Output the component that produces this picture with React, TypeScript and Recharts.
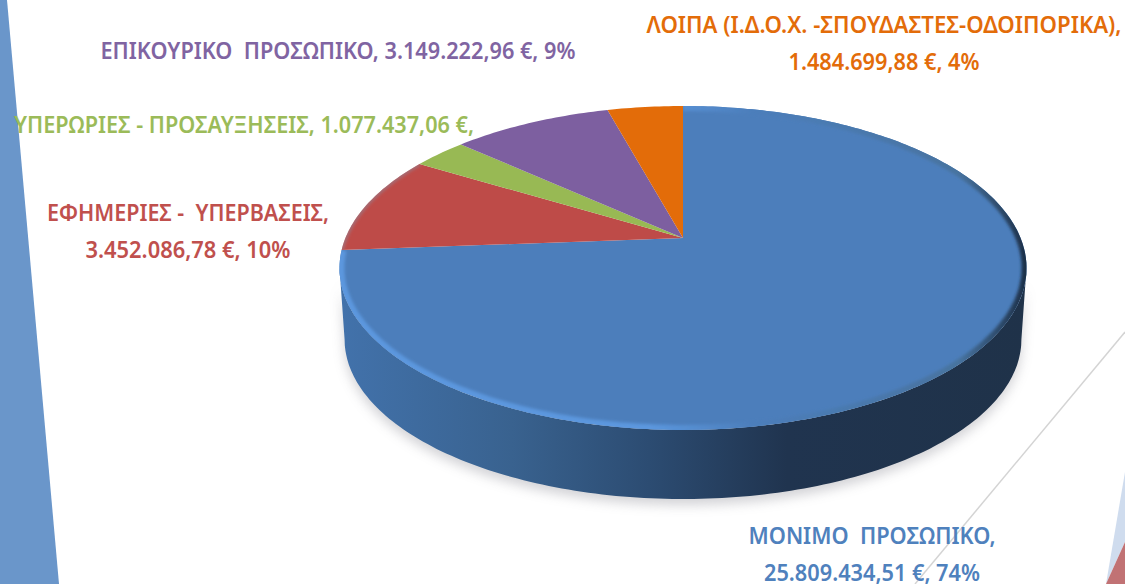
import { PieChart, Pie } from "recharts";

const categories = [
  "ΜΟΝΙΜΟ  ΠΡΟΣΩΠΙΚΟ",
  "ΕΦΗΜΕΡΙΕΣ -  ΥΠΕΡΒΑΣΕΙΣ",
  "ΥΠΕΡΩΡΙΕΣ - ΠΡΟΣΑΥΞΗΣΕΙΣ",
  "ΕΠΙΚΟΥΡΙΚΟ  ΠΡΟΣΩΠΙΚΟ",
  "ΛΟΙΠΑ (Ι.Δ.Ο.Χ. -ΣΠΟΥΔΑΣΤΕΣ-ΟΔΟΙΠΟΡΙΚΑ)",
];
const amounts = [25809434.51, 3452086.78, 1077437.06, 3149222.96, 1484699.88];
const sliceColors = ["#4c7ebb", "#be4b48", "#98b954", "#7d5fa0", "#e36c09"];
const textColors = ["#4f81bd", "#c0504d", "#9bbb59", "#8064a2", "#e36c09"];
const labelLines = [
  ["ΜΟΝΙΜΟ  ΠΡΟΣΩΠΙΚΟ,", "25.809.434,51 €, 74%"],
  ["ΕΦΗΜΕΡΙΕΣ -  ΥΠΕΡΒΑΣΕΙΣ,", "3.452.086,78 €, 10%"],
  ["ΥΠΕΡΩΡΙΕΣ - ΠΡΟΣΑΥΞΗΣΕΙΣ, 1.077.437,06 €,"],
  ["ΕΠΙΚΟΥΡΙΚΟ  ΠΡΟΣΩΠΙΚΟ, 3.149.222,96 €, 9%"],
  ["ΛΟΙΠΑ (Ι.Δ.Ο.Χ. -ΣΠΟΥΔΑΣΤΕΣ-ΟΔΟΙΠΟΡΙΚΑ),", "1.484.699,88 €, 4%"],
];
// measured on the picture, the original text is a bit squeezed sideways
const labelWidths = [[247, 216], [282, 205], [460], [475], [475, 191]];
const labelCenters = [872, 188, 244, 338, 884];
const labelBaselines = [544, 221, 133, 59, 33];
const LINE_GAP = 37;

const data = categories.map((name, i) => ({ name, value: amounts[i], index: i }));

// tilted disc: the apex sits above the middle of the ellipse, like the perspective in the original
const TILT = 0.185;
const SPREAD_X = 337.6;
const SPREAD_Y = 156.4;
const DEPTH = 72;
const FLOOR_SCALE = 0.985;

const project = (cx: number, cy: number, deg: number, scale = 1, dy = 0) => {
  const u = Math.cos((deg * Math.PI) / 180);
  const v = Math.sin((deg * Math.PI) / 180);
  const w = 1 + TILT * v;
  return [cx + (scale * SPREAD_X * u) / w, cy + dy - (scale * SPREAD_Y * v) / w];
};

const arcPoints = (cx: number, cy: number, from: number, to: number, scale = 1, dy = 0) => {
  const steps = Math.max(4, Math.ceil(Math.abs(to - from)));
  const pts: string[] = [];
  for (let i = 0; i <= steps; i++) {
    const p = project(cx, cy, from + ((to - from) * i) / steps, scale, dy);
    pts.push(`${p[0].toFixed(1)} ${p[1].toFixed(1)}`);
  }
  return pts;
};

function DiscSlice(props: any) {
  const { cx, cy, startAngle, endAngle, fill, index } = props;
  const rimPts = arcPoints(cx, cy, startAngle, endAngle);
  const face = `M${cx} ${cy}L${rimPts.join("L")}Z`;
  const rim = `M${rimPts.join("L")}`;
  if (index === 1) {
    return (
      <g>
        <path d={face} fill={fill} />
        <clipPath id="redClip">
          <path d={face} />
        </clipPath>
        <g clipPath="url(#redClip)">
          <path d={rim} fill="none" stroke="#8e8a9c" strokeOpacity={0.55} strokeWidth={4} filter="url(#rimBlur)" />
        </g>
      </g>
    );
  }
  if (index !== 0) {
    return <path d={face} fill={fill} />;
  }
  // front wall goes between the two silhouette points of the ellipse
  const edge = (Math.asin(-TILT) * 180) / Math.PI;
  const top = arcPoints(cx, cy, edge, -180 - edge);
  const floor = arcPoints(cx, cy, -180 - edge, edge, FLOOR_SCALE, DEPTH);
  const wall = `M${top.join("L")}L${floor.join("L")}Z`;
  return (
    <g>
      <path d={wall} fill="#84848e" opacity={0.36} filter="url(#softShadow)" transform="translate(0 6)" />
      <path d={wall} fill="url(#wallShade)" />
      <path d={face} fill={fill} />
      <clipPath id="faceClip">
        <path d={face} />
      </clipPath>
      <g clipPath="url(#faceClip)">
        <path d={rim} fill="none" stroke="url(#rimShade)" strokeWidth={10} filter="url(#rimBlur)" />
      </g>
    </g>
  );
}

function SliceLabel(props: any) {
  const i = props.index;
  return (
    <g>
      {labelLines[i].map((line, n) => (
        <text
          key={n}
          x={labelCenters[i] - labelWidths[i][n] / 2}
          y={labelBaselines[i] + n * LINE_GAP}
          textLength={labelWidths[i][n]}
          lengthAdjust="spacingAndGlyphs"
          fill={textColors[i]}
          fontFamily="'Noto Sans', sans-serif"
          fontSize={22.5}
          fontWeight={600}
          style={{ whiteSpace: "pre" }}
        >
          {line}
        </text>
      ))}
    </g>
  );
}

export default function App() {
  return (
    <div style={{ position: "absolute", left: 0, top: 0, width: 1125, height: 584, overflow: "hidden", background: "#fff" }}>
      <svg width={1125} height={584} style={{ position: "absolute", left: 0, top: 0 }}>
        <defs>
          <linearGradient id="wallShade" gradientUnits="userSpaceOnUse" x1={340} y1={0} x2={1027} y2={0}>
            <stop offset="0" stopColor="#4272ab" />
            <stop offset="0.25" stopColor="#39628f" />
            <stop offset="0.45" stopColor="#2c4c72" />
            <stop offset="0.65" stopColor="#20344f" />
            <stop offset="1" stopColor="#1f3249" />
          </linearGradient>
          <linearGradient id="rimShade" gradientUnits="userSpaceOnUse" x1={340} y1={0} x2={1027} y2={0}>
            <stop offset="0" stopColor="#5b97de" />
            <stop offset="0.45" stopColor="#5b97de" />
            <stop offset="0.6" stopColor="#4c7ebb" />
            <stop offset="0.9" stopColor="#47739f" />
            <stop offset="1" stopColor="#1c2f47" />
          </linearGradient>
          <filter id="softShadow" x="-10%" y="-10%" width="120%" height="130%">
            <feGaussianBlur stdDeviation="6" />
          </filter>
          <filter id="rimBlur" x="-5%" y="-5%" width="110%" height="110%">
            <feGaussianBlur stdDeviation="1.6" />
          </filter>
        </defs>
        <polygon points="0,0 7,0 59,584 0,584" fill="#6a96ca" />
        <line x1={1125} y1={332} x2={915} y2={584} stroke="#d4d4d4" strokeWidth={1.5} />
        <polygon points="1125,472 1125,542 1106,584" fill="#cfdcee" />
        <polygon points="1125,542 1125,584 1106,584" fill="#c17274" />
      </svg>
      <div style={{ position: "absolute", left: 0, top: 0 }}>
        <PieChart width={1125} height={584} margin={{ top: 0, right: 0, bottom: 0, left: 0 }}>
          <Pie
            data={data}
            dataKey="value"
            nameKey="name"
            cx={683}
            cy={238}
            outerRadius={340}
            startAngle={90}
            endAngle={-270}
            stroke="none"
            fill="#4c7ebb"
            isAnimationActive={false}
            labelLine={false}
            label={(p: any) => <SliceLabel {...p} />}
            shape={(p: any) => <DiscSlice {...p} fill={sliceColors[p.index]} />}
          />
        </PieChart>
      </div>
    </div>
  );
}
